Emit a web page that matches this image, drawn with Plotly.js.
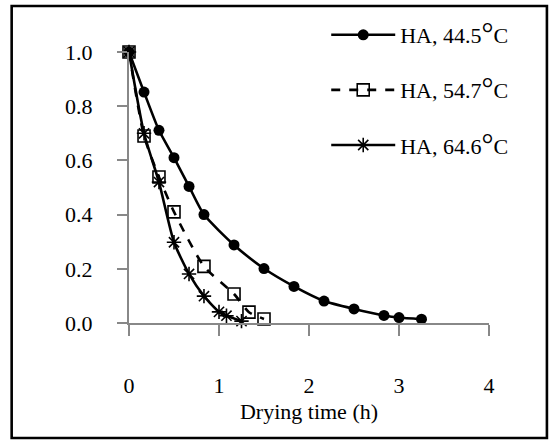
<!DOCTYPE html>
<html>
<head>
<meta charset="utf-8">
<script src="https://cdn.plot.ly/plotly-3.0.1.min.js"></script>
<style>
html, body { margin: 0; padding: 0; background: #fff; }
#chart { width: 552px; height: 445px; }
</style>
</head>
<body>
<div id="chart"></div>
<script>
// Drying time (h)
const t445 = [0, 0.167, 0.333, 0.5, 0.667, 0.833, 1.167, 1.5, 1.833, 2.167, 2.5, 2.833, 3.0, 3.25];
const mr445 = [1.0, 0.852, 0.711, 0.610, 0.504, 0.400, 0.288, 0.201, 0.135, 0.081, 0.052, 0.028, 0.020, 0.014];

const t547 = [0, 0.167, 0.333, 0.5, 0.833, 1.167, 1.333, 1.5];
const mr547 = [1.0, 0.690, 0.539, 0.410, 0.209, 0.107, 0.040, 0.015];

const t646 = [0, 0.167, 0.333, 0.5, 0.667, 0.833, 1.0, 1.083, 1.25];
const mr646 = [1.0, 0.700, 0.520, 0.298, 0.181, 0.099, 0.041, 0.027, 0.007];

const seriesLabels = ["HA, 44.5", "HA, 54.7", "HA, 64.6"];
const unitLabel = "°C";
const xTicks = [0, 1, 2, 3, 4];
const yTicks = [0, 0.2, 0.4, 0.6, 0.8, 1.0];

const FONT = "Liberation Serif, Times New Roman, serif";
const FS = 22;
const nameOf = s => s + '<span style="font-size:30px">' + unitLabel[0] + '</span>' + unitLabel.slice(1);

const traces = [
  {
    x: t445, y: mr445, name: nameOf(seriesLabels[0]), type: "scatter", mode: "lines+markers",
    line: { color: "#000", width: 2.6, shape: "spline", smoothing: 0.6 },
    marker: { symbol: "circle", size: 11, color: "#000" },
    cliponaxis: false, legendgroup: "a"
  },
  {
    x: t547, y: mr547, name: nameOf(seriesLabels[1]), type: "scatter", mode: "lines+markers",
    line: { color: "#000", width: 2.6, dash: "dash", shape: "spline", smoothing: 0.6 },
    marker: { symbol: "square-open", size: 12, color: "#000", line: { width: 1.6, color: "#000" } },
    cliponaxis: false, legendgroup: "b"
  },
  {
    x: t646, y: mr646, name: nameOf(seriesLabels[2]), type: "scatter", mode: "lines+markers",
    line: { color: "#000", width: 2.6, shape: "spline", smoothing: 0.6 },
    marker: { symbol: "asterisk-open", size: 12, color: "#000", line: { width: 1.6, color: "#000" } },
    cliponaxis: false, legendgroup: "c"
  }
];

const L = 128.5, R = 489, T = 52, B = 323;
const W = 552, H = 445;
const px = p => (p - L) / (R - L);
const py = p => (B - p) / (B - T);

const layout = {
  width: W, height: H,
  margin: { l: L, r: W - R, t: T, b: H - B, pad: 0 },
  paper_bgcolor: "#fff", plot_bgcolor: "#fff",
  font: { family: FONT, size: FS, color: "#000" },
  showlegend: true,
  legend: {
    x: px(326), y: py(14), xanchor: "left", yanchor: "top",
    bgcolor: "rgba(0,0,0,0)", borderwidth: 0,
    font: { family: FONT, size: FS, color: "#000" },
    traceorder: "grouped", tracegroupgap: 23.5, itemwidth: 64
  },
  xaxis: {
    range: [0, 4], tickvals: xTicks, ticktext: xTicks.map(String),
    showgrid: false, zeroline: false, showline: true, linecolor: "#888888", linewidth: 2,
    ticks: "outside", ticklen: 11, tickcolor: "#888888", tickwidth: 2,
    ticklabelstandoff: 31,
    title: { text: "Drying time (h)", font: { family: FONT, size: FS, color: "#000" }, standoff: 6 },
    fixedrange: true
  },
  yaxis: {
    range: [0, 1], tickvals: yTicks, ticktext: yTicks.map(v => v.toFixed(1)),
    showgrid: false, zeroline: false, showline: true, linecolor: "#888888", linewidth: 2,
    ticks: "outside", ticklen: 10, tickcolor: "#888888", tickwidth: 2,
    ticklabelstandoff: 20,
    fixedrange: true
  },
  shapes: [
    { type: "rect", xref: "paper", yref: "paper",
      x0: px(11), x1: px(547), y0: py(438), y1: py(6),
      line: { color: "#000", width: 2.6 }, fillcolor: "rgba(0,0,0,0)", layer: "above" }
  ]
};

Plotly.newPlot("chart", traces, layout, { displayModeBar: false, staticPlot: true });
</script>
</body>
</html>
